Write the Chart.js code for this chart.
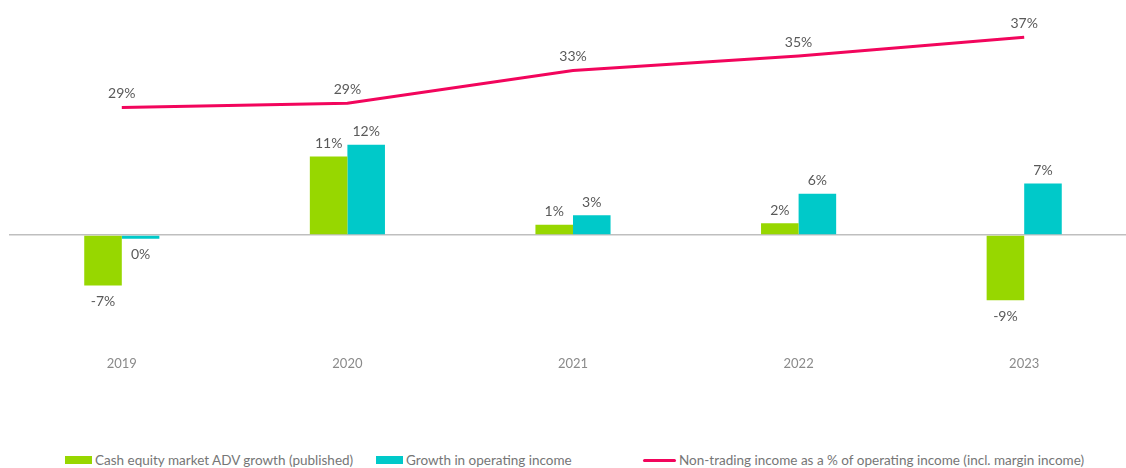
<!DOCTYPE html>
<html>
<head>
<meta charset="utf-8">
<script src="https://cdn.jsdelivr.net/npm/chart.js@4.4.1/dist/chart.umd.min.js"></script>
<style>
  html, body { margin: 0; padding: 0; background: #fff; overflow: hidden; }
  #wrap { position: relative; width: 1126px; height: 468px; }
  #myChart { position: absolute; left: 0; top: 0; }
  #legend { position: absolute; left: 0; top: 452px; width: 1126px; height: 16px;
            font-family: Lato, "Open Sans", sans-serif; font-size: 13.5px; color: #767676; white-space: nowrap; }
  .item { position: absolute; top: 0; display: flex; align-items: center; height: 16px; }
  .box { width: 27px; height: 8px; margin-right: 3px; }
  .ln { width: 33px; height: 3px; margin-right: 3px; border-radius: 2px; }
</style>
</head>
<body>
<div id="wrap">
  <canvas id="myChart" width="1137" height="376"></canvas>
  <div id="legend"></div>
</div>
<script>
'use strict'

const years = ['2019', '2020', '2021', '2022', '2023'];
const advGrowth = [-6.9, 10.7, 1.4, 1.6, -8.9];
const incomeGrowth = [-0.5, 12.3, 2.7, 5.6, 7.0];
const nonTrading = [28.9, 29.4, 33.2, 34.9, 37.1];

const seriesNames = [
  'Cash equity market ADV growth (published)',
  'Growth in operating income',
  'Non-trading income as a % of operating income (incl. margin income)'
];
const colors = ['#97D700', '#00C9C9', '#F2055C'];

/// value labels drawn at the elements chart.js placed
const valueLabels = {
  id: 'valueLabels',
  afterDatasetsDraw(chart) {
    const ctx = chart.ctx;
    ctx.save();
    ctx.font = '14px Lato, "Open Sans", sans-serif';
    ctx.fillStyle = '#595959';
    ctx.textAlign = 'center';
    ctx.textBaseline = 'middle';
    chart.data.datasets.forEach((ds, i) => {
      const meta = chart.getDatasetMeta(i);
      meta.data.forEach((el, j) => {
        const v = ds.data[j];
        const txt = Math.round(v) + '%';
        let y;
        if (ds.type === 'line') {
          y = el.y - 14;
        } else {
          y = v >= 0 ? el.y - 13 : el.y + 16;
        }
        ctx.fillText(txt, el.x, y);
      });
    });
    ctx.restore();
  }
};

function createChart() {
  const ctx = document.getElementById('myChart').getContext('2d');

  new Chart(ctx, {
    type: 'bar',
    data: {
      labels: years,
      datasets: [
        {
          label: seriesNames[0],
          data: advGrowth,
          backgroundColor: colors[0],
          categoryPercentage: 0.333,
          barPercentage: 1,
          yAxisID: 'y',
          order: 2,
        },
        {
          label: seriesNames[1],
          data: incomeGrowth,
          backgroundColor: colors[1],
          categoryPercentage: 0.333,
          barPercentage: 1,
          yAxisID: 'y',
          order: 2,
        },
        {
          type: 'line',
          label: seriesNames[2],
          data: nonTrading,
          borderColor: colors[2],
          borderWidth: 3,
          pointRadius: 0,
          tension: 0,
          fill: false,
          yAxisID: 'y1',
          order: 1,
        },
      ],
    },
    options: {
      responsive: false,
      animation: false,
      layout: { padding: { left: 9, top: 17, right: 0, bottom: 0 } },
      plugins: {
        legend: { display: false },
        tooltip: { enabled: false },
      },
      scales: {
        x: {
          grid: { display: false, drawTicks: false },
          border: { display: false },
          ticks: {
            padding: 4,
            color: '#8a8a8a',
            font: { family: 'Lato, "Open Sans", sans-serif', size: 13 },
          },
        },
        y: {
          display: true,
          min: -16,
          max: 29.7,
          ticks: { display: false, stepSize: 1 },
          border: { display: false },
          grid: {
            drawTicks: false,
            lineWidth: 1.5,
            color: (c) => (c.tick && c.tick.value === 0 ? '#BFBFBF' : 'rgba(0,0,0,0)'),
          },
        },
        y1: {
          display: false,
          min: 0.35,
          max: 39.45,
        },
      },
    },
    plugins: [valueLabels],
  });

  // legend, items placed where the reference has them
  const lg = document.getElementById('legend');
  const lefts = [65, 376, 643];
  seriesNames.forEach((name, i) => {
    const it = document.createElement('div');
    it.className = 'item';
    it.style.left = lefts[i] + 'px';
    const sw = document.createElement('span');
    sw.className = i === 2 ? 'ln' : 'box';
    sw.style.background = colors[i];
    const tx = document.createElement('span');
    tx.textContent = name;
    it.appendChild(sw);
    it.appendChild(tx);
    lg.appendChild(it);
  });
}

createChart();
</script>
</body>
</html>
